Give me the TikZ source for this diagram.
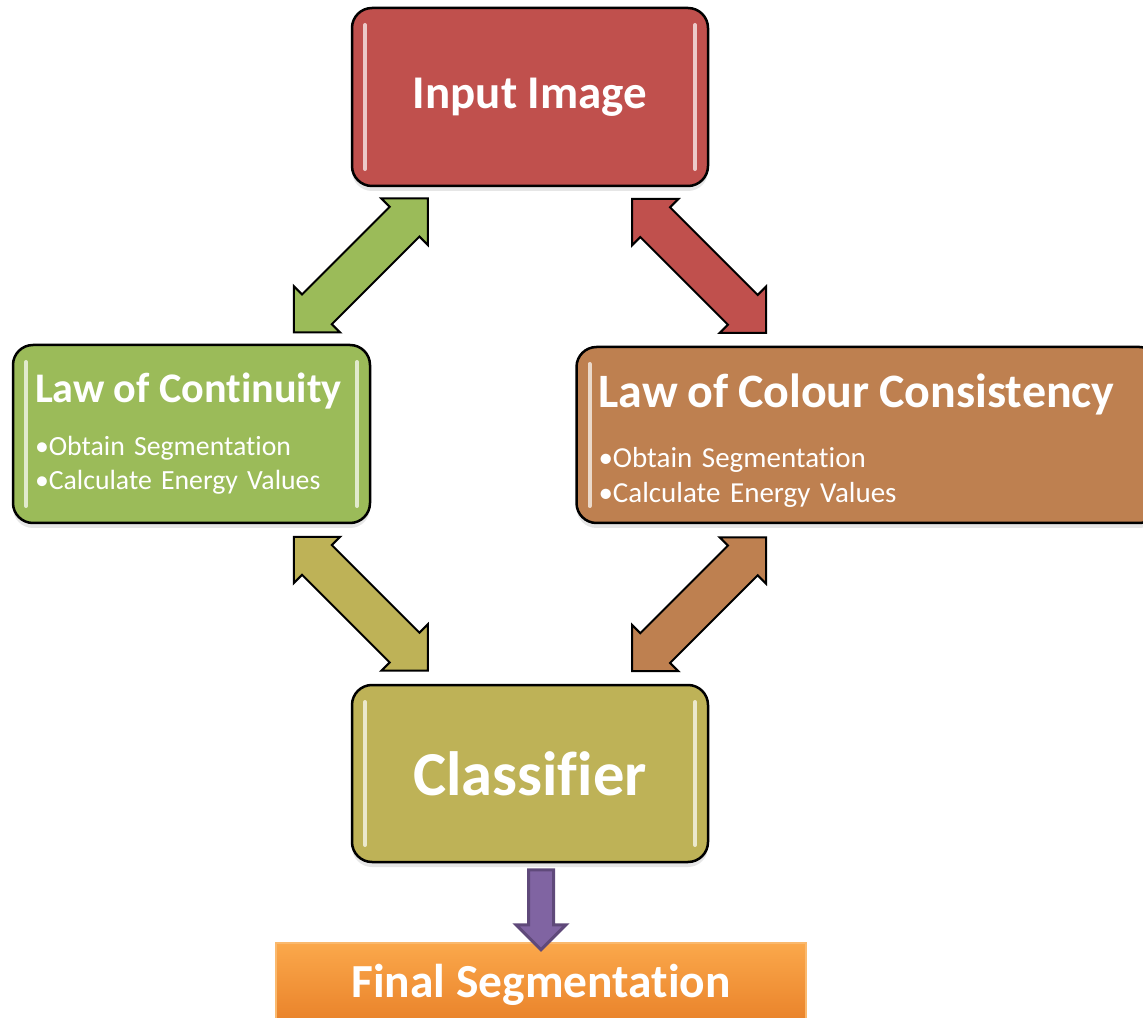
\documentclass[tikz,border=0pt]{standalone}
\usepackage{fontspec}
\setmainfont{Carlito}[Ligatures=NoCommon]
\usetikzlibrary{shapes.arrows,shadows,calc,positioning}

\definecolor{imgred}{RGB}{192,80,77}
\definecolor{contgreen}{RGB}{155,187,89}
\definecolor{colbrown}{RGB}{190,128,80}
\definecolor{clsolive}{RGB}{190,178,87}
\definecolor{finorange}{RGB}{248,150,55}
\definecolor{downpurple}{RGB}{128,100,162}
\definecolor{downborder}{RGB}{95,73,122}

\begin{document}
\begin{tikzpicture}
\tikzstyle{box}=[rectangle, rounded corners=0.4cm, draw=black, line width=0.05cm, text=white,
  drop shadow={shadow xshift=0cm, shadow yshift=-0.1cm, opacity=0.2},
  path picture={
    \draw[white, opacity=0.7, line width=0.08cm, line cap=round]
      ([shift={(0.26cm,-0.34cm)}]path picture bounding box.north west) -- ([shift={(0.26cm,0.34cm)}]path picture bounding box.south west)
      ([shift={(-0.26cm,-0.34cm)}]path picture bounding box.north east) -- ([shift={(-0.26cm,0.34cm)}]path picture bounding box.south east);
  }]
\tikzstyle{lawbox}=[box, align=left, inner xsep=0.44cm, anchor=center]
\tikzstyle{link}=[double arrow, draw=black, line width=0.04cm, double arrow tip angle=90,
  double arrow head extend=0.236cm, inner xsep=0pt, inner ysep=0.4cm, minimum height=3.79cm]

\useasboundingbox (0,0) rectangle (22.86,-20.36);

\node[box, fill=imgred, minimum width=7.12cm, minimum height=3.56cm,
  font=\bfseries\fontsize{26.7}{32}\selectfont] (img) at (10.6,-1.94) {Input Image};

\node[lawbox, fill=contgreen, minimum width=7.14cm, minimum height=3.56cm, text width=6.26cm,
  font=\fontsize{15.8}{19.8}\selectfont] (cont) at (3.83,-8.68)
  {{\bfseries\fontsize{24}{28}\selectfont Law of Continuity}\\[10pt]
   •Obtain Segmentation\\•Calculate Energy Values};

\node[lawbox, fill=colbrown, minimum width=11.66cm, minimum height=3.52cm, text width=10.78cm,
  font=\fontsize{16.5}{20}\selectfont] (colr) at (17.36,-8.7)
  {\rule{0pt}{10pt}\\[-4pt]{\bfseries\fontsize{27.3}{32}\selectfont Law of Colour Consistency}\\[14pt]
   •Obtain Segmentation\\•Calculate Energy Values};

\node[box, fill=clsolive, minimum width=7.12cm, minimum height=3.54cm,
  font=\bfseries\fontsize{35.6}{40}\selectfont] (cls) at (10.6,-15.47) {Classifier};

\node[rectangle, minimum width=10.6cm, minimum height=1.68cm, text=white,
  top color={rgb,255:red,251;green,168;blue,75}, middle color=finorange,
  bottom color={rgb,255:red,232;green,128;blue,40},
  draw={rgb,255:red,250;green,185;blue,110}, line width=0.03cm,
  font=\bfseries\fontsize{27}{32}\selectfont] (final) at (10.82,-19.7) {Final Segmentation};

\node[link, fill=contgreen, rotate=45] (a1) at ($(img)!0.5!(cont)$) {};
\node[link, fill=imgred, rotate=-45] (a2) at ($(img)!0.5!(colr)$) {};
\node[link, fill=clsolive, rotate=-45] (a3) at ($(cont)!0.5!(cls)$) {};
\node[link, fill=colbrown, rotate=45] (a4) at ($(colr)!0.5!(cls)$) {};

\node[single arrow, fill=downpurple, draw=downborder, line width=0.06cm, single arrow tip angle=90,
  single arrow head extend=0.25cm, inner xsep=0pt, inner ysep=0.22cm, minimum height=1.6cm,
  rotate=-90, anchor=tail] (down) at ($(final.north |- cls.south)+(0,-0.1)$) {};
\end{tikzpicture}
\end{document}
